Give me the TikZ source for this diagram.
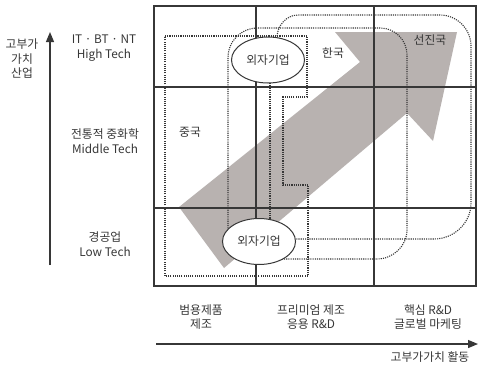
\documentclass[tikz,border=0pt]{standalone}
\usepackage{fontspec}
\setmainfont{Noto Sans CJK KR}
\usetikzlibrary{arrows.meta,shapes.geometric}
\definecolor{ink}{RGB}{55,55,55}
\definecolor{arrowgray}{RGB}{184,178,176}
\tikzset{
  grid/.style={draw=ink,line width=1.1pt},
  dotline/.style={draw=ink,line width=1.1pt,dash pattern=on 1.1pt off 1.1pt},
  lbl/.style={font=\fontsize{11.8}{14.5}\selectfont,text=ink,align=center,inner sep=0pt},
  oval/.style={draw=ink,line width=1pt,fill=white,ellipse,minimum width=73pt,minimum height=46pt,inner sep=0pt,font=\fontsize{11.8}{14}\selectfont,text=ink},
  axis/.style={draw=ink,line width=1.2pt,-{Triangle[length=10pt,width=8pt]}}
}
\begin{document}
\begin{tikzpicture}[x=1pt,y=-1pt]
\useasboundingbox (0,0) rectangle (478,364);
\fill[white] (0,0) rectangle (478,364);
% big gray arrow
\fill[arrowgray] (179,207) -- (360,62) -- (335,32) -- (457,32) -- (433,141) -- (407,113) -- (224,268) -- cycle;
% grid
\draw[grid] (154,6) rectangle (476,286);
\draw[grid] (256,6) -- (256,286);
\draw[grid] (374,6) -- (374,286);
\draw[grid] (154,87) -- (476,87);
\draw[grid] (154,208) -- (476,208);
% dotted regions
\draw[dotline] (165,36) -- (307,36) -- (307,97) -- (283,97) -- (283,185) -- (308,185) -- (308,276) -- (165,276) -- cycle;
\draw[dotline] (228,235) -- (228,58) .. controls (228,41) and (241,28) .. (258,28) -- (380,28) .. controls (395,28) and (407,40) .. (407,55) -- (407,230) .. controls (407,246) and (393,259) .. (377,259) -- (268,259);
\draw[dotline] (277,45) -- (277,38) .. controls (277,26) and (286,15) .. (298,15) -- (440,15) .. controls (457,15) and (471,29) .. (471,46) -- (471,203) .. controls (471,223) and (454,239) .. (434,239) -- (288,239);
\draw[dotline] (270,70) -- (270,230);
% ellipses
\node[oval] (top) at (268,60) {외자기업};
\node[oval] (bot) at (259,241.5) {외자기업};
% region labels
\node[lbl] (kr) at (333,53) {한국};
\node[lbl] (adv) at (430,40) {선진국};
\node[lbl] (cn) at (190,132) {중국};
% left axis
\coordinate (va) at (50,265);
\coordinate (vb) at (50,32);
\draw[axis] (va) -- (vb);
\node[lbl] (yl) at (22,59) {고부가\\가치\\산업};
\node[lbl] (r1) at (104,48) {IT · BT · NT\\High Tech};
\node[lbl] (r2) at (105,141) {전통적 중화학\\Middle Tech};
\node[lbl] (r3) at (105,244) {경공업\\Low Tech};
% bottom axis
\coordinate (ha) at (156,344);
\coordinate (hb) at (478,344);
\draw[axis] (ha) -- (hb);
\node[lbl] (c1) at (201,317) {범용제품\\제조};
\node[lbl] (c2) at (311,317) {프리미엄 제조\\응용 R\&D};
\node[lbl] (c3) at (428,317) {핵심 R\&D\\글로벌 마케팅};
\node[lbl] (xl) at (430,357) {고부가가치 활동};
\end{tikzpicture}
\end{document}
